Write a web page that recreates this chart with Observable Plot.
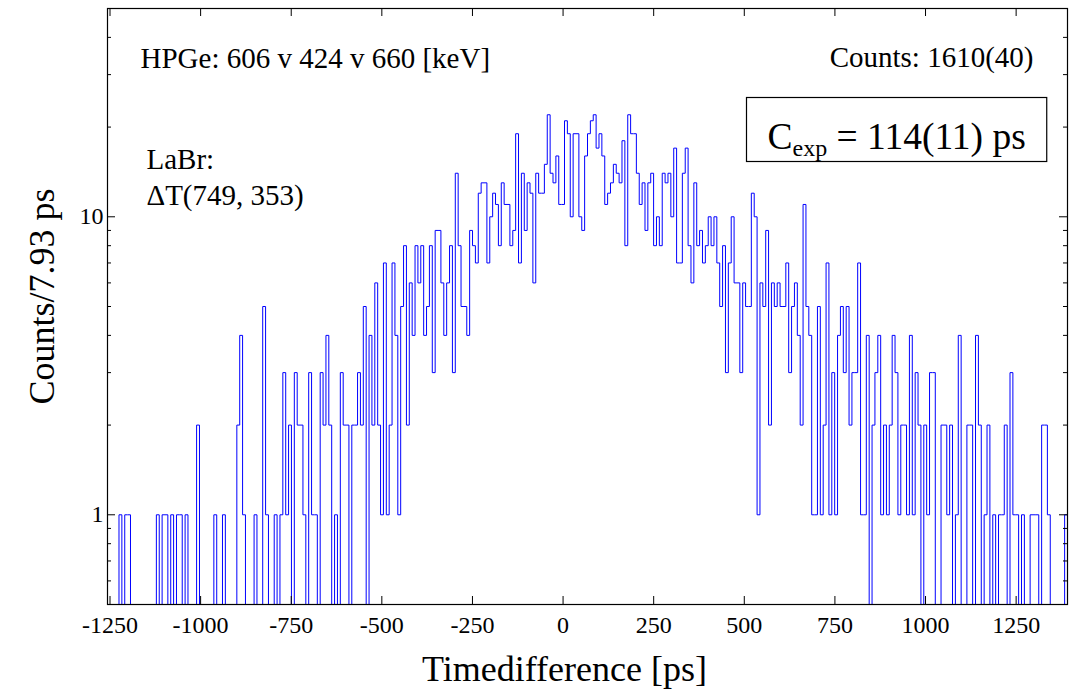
<!DOCTYPE html>
<html><head><meta charset="utf-8">
<script src="https://cdn.jsdelivr.net/npm/d3@7"></script>
<script src="https://cdn.jsdelivr.net/npm/@observablehq/plot@0.6"></script>
<style>body{margin:0;background:#fff} svg{display:block}</style>
</head><body><div id="chart"></div>
<script>
// ---- data ----
const binWidth = 7.93;          // ps per bin
const firstBin = -158;          // index of first bin (bin centre = index * binWidth)
const counts = [
  0,0,0,0,1,0,1,1,0,0,
  0,0,0,0,0,0,0,1,0,1,
  1,0,1,0,1,1,0,1,0,0,
  0,2,0,0,0,0,0,1,0,0,
  1,0,0,0,0,2,4,1,0,0,
  0,1,0,0,5,1,0,0,1,0,
  1,3,1,2,0,3,2,2,1,0,
  3,1,1,0,3,2,4,2,0,1,
  0,3,2,2,0,2,2,3,2,5,
  0,4,2,6,2,1,7,1,2,7,
  4,1,5,8,2,6,4,8,6,8,
  4,5,8,3,9,9,6,4,6,8,
  3,14,8,5,5,4,9,8,7,12,
  13,13,7,10,12,11,8,13,11,11,
  8,9,19,7,14,9,13,12,6,14,
  12,12,15,22,14,13,16,11,11,21,
  19,10,19,19,10,9,16,19,21,22,
  17,19,16,11,12,13,15,14,13,18,
  8,22,19,19,14,11,13,9,13,14,
  8,10,8,14,13,14,10,17,7,7,
  14,17,8,6,13,8,9,7,8,10,
  8,10,7,5,8,3,7,10,6,6,
  3,6,5,5,12,10,1,6,5,9,
  2,6,5,6,5,5,7,3,5,6,
  4,2,11,5,4,1,1,5,1,2,
  7,1,3,1,4,5,3,5,2,3,
  3,7,1,1,4,0,2,3,4,1,
  2,1,2,4,3,1,2,2,1,4,
  1,3,2,0,2,1,3,3,0,0,
  2,2,1,2,0,1,4,0,0,2,
  2,0,4,2,0,1,2,0,1,0,
  1,1,2,0,3,1,1,0,1,0,
  0,1,1,1,0,2,2,1,0,0,
  0,0,0,1
];
const xTicks = [-1250,-1000,-750,-500,-250,0,250,500,750,1000,1250];
const yMajor = [1,10];
const yMinor = [0.6,0.7,0.8,0.9,2,3,4,5,6,7,8,9,20,30,40];
const yDomain = [0.5, 50];
const xTitle = "Timedifference [ps]";
const yTitle = "Counts/7.93 ps";
const hpgeLabel = "HPGe: 606 v 424 v 660 [keV]";
const countsLabel = "Counts: 1610(40)";
const labrLabel1 = "LaBr:";
const labrLabel2 = "\u0394T(749, 353)";
const cexpParts = ["C", "exp", " = 114(11) ps"];

// ---- layout ----
const W = 1077, H = 689;
const mL = 107, mR = 10, mT = 8, mB = 85;
const fw = W - mL - mR, fh = H - mT - mB;
const serif = "'Liberation Serif', 'Times New Roman', serif";

// step outline through bin edges
const pts = counts.map((c, i) => ({x: (firstBin + i) * binWidth - binWidth / 2, y: Math.max(c, yDomain[0])}));
pts.push({x: (firstBin + counts.length) * binWidth - binWidth / 2, y: Math.max(counts[counts.length - 1], yDomain[0])});
const xDomain = [pts[0].x, pts[pts.length - 1].x];

const chart = Plot.plot({
  width: W, height: H,
  marginLeft: mL, marginRight: mR, marginTop: mT, marginBottom: mB,
  style: {fontFamily: serif, background: "white", color: "black"},
  x: {domain: xDomain, axis: null},
  y: {type: "log", domain: yDomain, axis: null},
  marks: [
    Plot.line(pts, {x: "x", y: "y", curve: "step-after", stroke: "#0000ff", strokeWidth: 1}),
    Plot.frame({stroke: "black", strokeWidth: 1.2}),
    Plot.tickX(xTicks, {x: d => d, insetTop: fh - 8, stroke: "black"}),
    Plot.tickX(xTicks, {x: d => d, insetBottom: fh - 8, stroke: "black"}),
    Plot.tickY(yMajor, {y: d => d, insetRight: fw - 8, stroke: "black"}),
    Plot.tickY(yMajor, {y: d => d, insetLeft: fw - 8, stroke: "black"}),
    Plot.tickY(yMinor, {y: d => d, insetRight: fw - 4, stroke: "black"}),
    Plot.tickY(yMinor, {y: d => d, insetLeft: fw - 4, stroke: "black"}),
    Plot.text(xTicks, {x: d => d, text: d => String(d), frameAnchor: "bottom", lineAnchor: "bottom", dy: 28, fontSize: 24}),
    Plot.text(yMajor, {y: d => d, text: d => String(d), frameAnchor: "left", textAnchor: "end", dx: -4, fontSize: 24}),
    Plot.text([xTitle], {text: d => d, frameAnchor: "bottom", textAnchor: "middle", lineAnchor: "bottom", dx: -23, dy: 76, fontSize: 36}),
    Plot.text([yTitle], {text: d => d, frameAnchor: "left", textAnchor: "middle", lineAnchor: "middle", rotate: -90, dx: -65, dy: -10, fontSize: 36}),
    Plot.text([hpgeLabel], {text: d => d, frameAnchor: "top-left", textAnchor: "start", lineAnchor: "bottom", dx: 33, dy: 59, fontSize: 29}),
    Plot.text([countsLabel], {text: d => d, frameAnchor: "top-right", textAnchor: "end", lineAnchor: "bottom", dx: -34, dy: 58, fontSize: 29}),
    Plot.text([labrLabel1], {text: d => d, frameAnchor: "top-left", textAnchor: "start", lineAnchor: "bottom", dx: 39, dy: 160, fontSize: 29}),
    Plot.text([labrLabel2], {text: d => d, frameAnchor: "top-left", textAnchor: "start", lineAnchor: "bottom", dx: 39, dy: 196, fontSize: 29}),
    Plot.text([cexpParts.join("")], {text: d => d, frameAnchor: "top-left", textAnchor: "start", lineAnchor: "bottom", dx: 660, dy: 140, fontSize: 37.5})
  ]
});
document.getElementById("chart").appendChild(chart);

// subscript + box for the C_exp annotation
const ns = "http://www.w3.org/2000/svg";
const ce = Array.from(chart.querySelectorAll("text")).find(t => t.textContent === cexpParts.join(""));
if (ce) {
  ce.textContent = "";
  const t1 = document.createElementNS(ns, "tspan"); t1.textContent = cexpParts[0];
  const t2 = document.createElementNS(ns, "tspan"); t2.textContent = cexpParts[1];
  t2.setAttribute("font-size", "24"); t2.setAttribute("dy", "7");
  const t3 = document.createElementNS(ns, "tspan"); t3.textContent = cexpParts[2];
  t3.setAttribute("dy", "-7");
  ce.append(t1, t2, t3);
  const bb = ce.getBBox();
  const rect = document.createElementNS(ns, "rect");
  rect.setAttribute("x", bb.x - 21);
  rect.setAttribute("y", bb.y - 18);
  rect.setAttribute("width", bb.width + 42);
  rect.setAttribute("height", 64);
  rect.setAttribute("fill", "white");
  rect.setAttribute("stroke", "black");
  rect.setAttribute("stroke-width", 1.2);
  if (ce.getAttribute("transform")) rect.setAttribute("transform", ce.getAttribute("transform"));
  ce.parentNode.insertBefore(rect, ce);
}
</script>
</body></html>
